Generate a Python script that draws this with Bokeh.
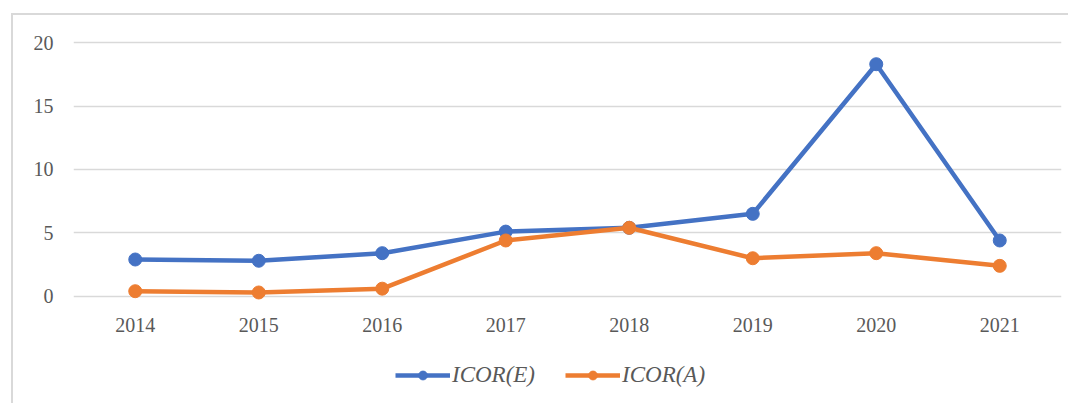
from bokeh.plotting import figure
from bokeh.models import Range1d, FixedTicker, Legend, LegendItem
from bokeh.layouts import column
from bokeh.embed import file_html
from bokeh.resources import INLINE

years = ["2014", "2015", "2016", "2017", "2018", "2019", "2020", "2021"]
icor_e = [2.9, 2.8, 3.4, 5.1, 5.4, 6.5, 18.3, 4.4]
icor_a = [0.4, 0.3, 0.6, 4.4, 5.4, 3.0, 3.4, 2.4]
y_ticks = [0, 5, 10, 15, 20]

BLUE = "#4472C4"
ORANGE = "#ED7D31"
GRID = "#d9d9d9"
TXT = "#595959"
FONT = "Liberation Serif"

p = figure(x_range=years, y_range=Range1d(-1.2, 20.8),
           width=1055, height=330,
           min_border_left=60, min_border_top=17, min_border_right=7,
           min_border_bottom=34,
           output_backend="svg", toolbar_location=None)
p.outline_line_color = None
p.background_fill_color = "white"
p.border_fill_color = "white"

p.xgrid.grid_line_color = None
p.ygrid.grid_line_color = GRID
p.ygrid.grid_line_width = 1.5
p.yaxis.ticker = FixedTicker(ticks=y_ticks)

for ax in (p.xaxis[0], p.yaxis[0]):
    ax.axis_line_color = None
    ax.major_tick_line_color = None
    ax.minor_tick_line_color = None
    ax.major_tick_out = 0
    ax.major_tick_in = 0
    ax.minor_tick_out = 0
    ax.major_label_text_font = FONT
    ax.major_label_text_font_size = "20px"
    ax.major_label_text_color = TXT
p.yaxis.major_label_standoff = 20
p.xaxis.major_label_standoff = 6

p.line(years, icor_e, line_color=BLUE, line_width=4.5)
p.scatter(years, icor_e, size=13, fill_color=BLUE, line_color=BLUE)
p.line(years, icor_a, line_color=ORANGE, line_width=4.5)
p.scatter(years, icor_a, size=13, fill_color=ORANGE, line_color=ORANGE)

# legend strip: same series drawn out of view, legend inside its frame
q = figure(x_range=years, y_range=Range1d(100, 101), width=1055, height=58,
           min_border=0, x_axis_location=None, y_axis_location=None,
           output_backend="svg", toolbar_location=None)
q.outline_line_color = None
q.xgrid.grid_line_color = None
q.ygrid.grid_line_color = None
le = q.line(years, icor_e, line_color=BLUE, line_width=4.5)
ce = q.scatter(years, icor_e, size=13, fill_color=BLUE, line_color=BLUE)
la = q.line(years, icor_a, line_color=ORANGE, line_width=4.5)
ca = q.scatter(years, icor_a, size=13, fill_color=ORANGE, line_color=ORANGE)

legend = Legend(items=[LegendItem(label="ICOR(E)", renderers=[le, ce]),
                       LegendItem(label="ICOR(A)", renderers=[la, ca])],
                orientation="horizontal", location=(322, 15),
                label_text_font=FONT, label_text_font_style="italic",
                label_text_font_size="23px", label_text_color=TXT,
                glyph_width=55, glyph_height=22, spacing=30,
                label_standoff=2, border_line_color=None,
                background_fill_alpha=0, padding=0, margin=0)
q.add_layout(legend, "center")

layout = column(p, q, spacing=0,
                styles={"margin-left": "11px", "margin-top": "13px",
                        "border-left": "2px solid #d9d9d9",
                        "border-top": "2px solid #d9d9d9"})

open("out.html", "w").write(file_html(layout, INLINE))
